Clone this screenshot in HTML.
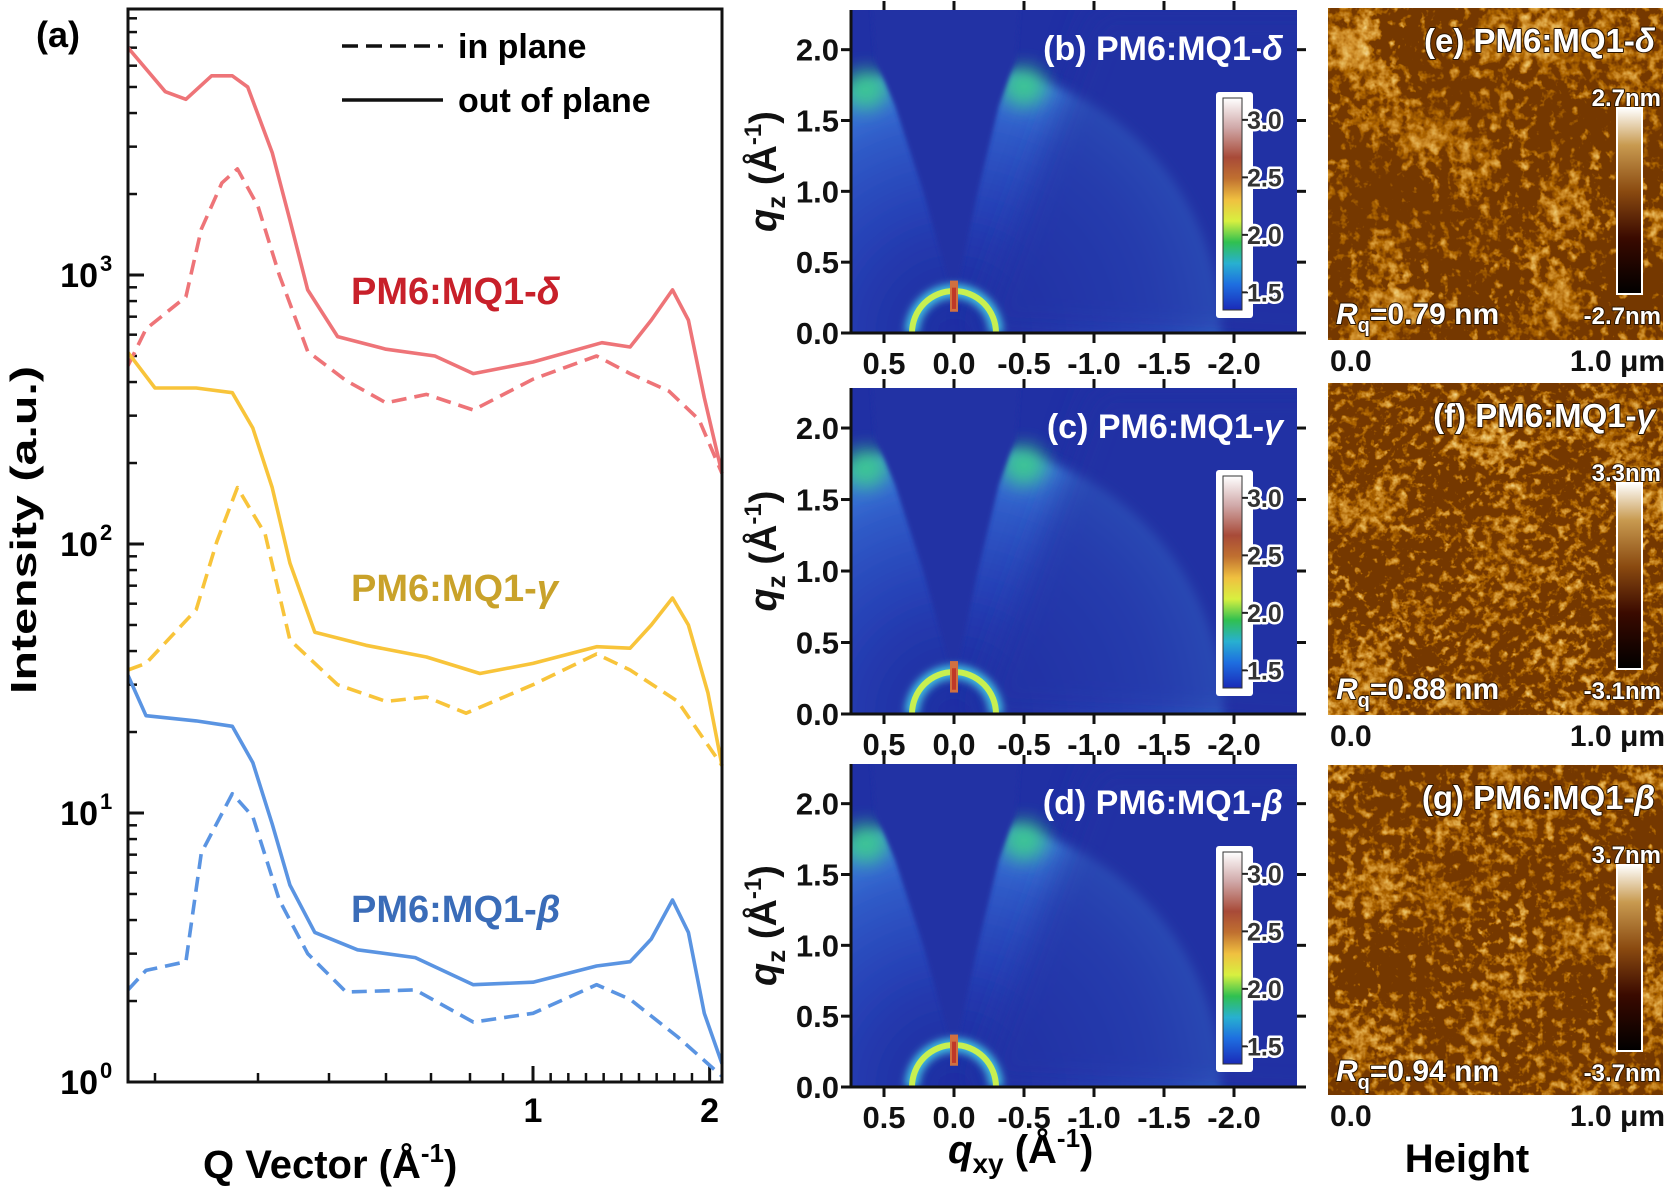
<!DOCTYPE html>
<html><head><meta charset="utf-8">
<style>
html,body{margin:0;padding:0;background:#fff;overflow:hidden;width:1673px;height:1196px;}
svg{display:block;font-family:"Liberation Sans",sans-serif;font-weight:bold;}
</style></head>
<body>
<svg id="fig" width="1673" height="1196" viewBox="0 0 1673 1196" xmlns="http://www.w3.org/2000/svg">
<defs>
  <filter id="blur4" x="-50%" y="-50%" width="200%" height="200%"><feGaussianBlur stdDeviation="4"/></filter>
  <filter id="blur8" x="-50%" y="-50%" width="200%" height="200%"><feGaussianBlur stdDeviation="9"/></filter>
  <filter id="blur16" x="-50%" y="-50%" width="200%" height="200%"><feGaussianBlur stdDeviation="16"/></filter>
  <filter id="blur2" x="-20%" y="-20%" width="140%" height="140%"><feGaussianBlur stdDeviation="2"/></filter>
  <linearGradient id="gcbar" x1="0" y1="1" x2="0" y2="0">
    <stop offset="0" stop-color="#1a2ab8"/>
    <stop offset="0.12" stop-color="#1e6ee0"/>
    <stop offset="0.22" stop-color="#28b0d0"/>
    <stop offset="0.32" stop-color="#30c050"/>
    <stop offset="0.42" stop-color="#d8f040"/>
    <stop offset="0.52" stop-color="#f0c040"/>
    <stop offset="0.62" stop-color="#c07030"/>
    <stop offset="0.72" stop-color="#a84a38"/>
    <stop offset="0.86" stop-color="#d0a8a8"/>
    <stop offset="1" stop-color="#ffffff"/>
  </linearGradient>
  <linearGradient id="acbar" x1="0" y1="1" x2="0" y2="0">
    <stop offset="0" stop-color="#000000"/>
    <stop offset="0.3" stop-color="#3a0a00"/>
    <stop offset="0.55" stop-color="#8a4a10"/>
    <stop offset="0.8" stop-color="#c89a50"/>
    <stop offset="1" stop-color="#ffffff"/>
  </linearGradient>
  <filter id="afmA" x="0" y="0" width="1" height="1" filterUnits="objectBoundingBox">
    <feTurbulence type="fractalNoise" baseFrequency="0.1" numOctaves="3" seed="3" result="n1"/>
    <feTurbulence type="fractalNoise" baseFrequency="0.012" numOctaves="2" seed="7" result="n2"/>
    <feComposite in="n1" in2="n2" operator="arithmetic" k1="0" k2="1.15" k3="0.9" k4="-0.5" result="n"/>
    <feColorMatrix in="n" type="matrix" values="1 0 0 0 0  1 0 0 0 0  1 0 0 0 0  0 0 0 0 1"/>
    <feComponentTransfer>
      <feFuncR type="table" tableValues="0.18 0.42 0.66 0.82 0.93 1"/>
      <feFuncG type="table" tableValues="0.04 0.13 0.3 0.52 0.75 0.97"/>
      <feFuncB type="table" tableValues="0 0 0.03 0.12 0.38 0.85"/>
    </feComponentTransfer>
  </filter>
  <filter id="afmB" x="0" y="0" width="1" height="1" filterUnits="objectBoundingBox">
    <feTurbulence type="fractalNoise" baseFrequency="0.12" numOctaves="3" seed="11" result="n1"/>
    <feTurbulence type="fractalNoise" baseFrequency="0.015" numOctaves="2" seed="19" result="n2"/>
    <feComposite in="n1" in2="n2" operator="arithmetic" k1="0" k2="1.25" k3="0.7" k4="-0.46" result="n"/>
    <feColorMatrix in="n" type="matrix" values="1 0 0 0 0  1 0 0 0 0  1 0 0 0 0  0 0 0 0 1"/>
    <feComponentTransfer>
      <feFuncR type="table" tableValues="0.18 0.42 0.66 0.82 0.93 1"/>
      <feFuncG type="table" tableValues="0.04 0.13 0.3 0.52 0.75 0.97"/>
      <feFuncB type="table" tableValues="0 0 0.03 0.12 0.38 0.85"/>
    </feComponentTransfer>
  </filter>
  <filter id="afmC" x="0" y="0" width="1" height="1" filterUnits="objectBoundingBox">
    <feTurbulence type="fractalNoise" baseFrequency="0.11" numOctaves="3" seed="23" result="n1"/>
    <feTurbulence type="fractalNoise" baseFrequency="0.013" numOctaves="2" seed="31" result="n2"/>
    <feComposite in="n1" in2="n2" operator="arithmetic" k1="0" k2="1.15" k3="0.8" k4="-0.47" result="n"/>
    <feColorMatrix in="n" type="matrix" values="1 0 0 0 0  1 0 0 0 0  1 0 0 0 0  0 0 0 0 1"/>
    <feComponentTransfer>
      <feFuncR type="table" tableValues="0.18 0.42 0.66 0.82 0.93 1"/>
      <feFuncG type="table" tableValues="0.04 0.13 0.3 0.52 0.75 0.97"/>
      <feFuncB type="table" tableValues="0 0 0.03 0.12 0.38 0.85"/>
    </feComponentTransfer>
  </filter>
</defs>

<g id="panelA">
  <text x="36" y="47" font-size="36">(a)</text>
  <g id="aTicks"></g>
  <g id="aCurves"></g>
  <rect x="128" y="9" width="594" height="1073" fill="none" stroke="#111" stroke-width="3"/>
  <text transform="translate(36,530) rotate(-90)" text-anchor="middle" font-size="36" textLength="328" lengthAdjust="spacingAndGlyphs">Intensity (a.u.)</text>
  <text x="203" y="1178" font-size="40">Q Vector (Å<tspan font-size="26" dy="-16">-1</tspan><tspan dy="16">)</tspan></text>
  <g>
    <line x1="342" y1="46" x2="443" y2="46" stroke="#111" stroke-width="3.5" stroke-dasharray="16 8"/>
    <text x="458" y="58" font-size="34">in plane</text>
    <line x1="342" y1="100" x2="443" y2="100" stroke="#111" stroke-width="3.5"/>
    <text x="458" y="112" font-size="34">out of plane</text>
  </g>
  <text x="351" y="304" font-size="38" fill="#c8202a">PM6:MQ1-<tspan font-style="italic">δ</tspan></text>
  <text x="351" y="601" font-size="38" fill="#c9a22a">PM6:MQ1-<tspan font-style="italic">γ</tspan></text>
  <text x="351" y="922" font-size="38" fill="#3a6cb8">PM6:MQ1-<tspan font-style="italic">β</tspan></text>
</g>

<g id="giwaxs"></g>
<g id="afm"></g>

<text x="948" y="1163" font-size="40"><tspan font-style="italic">q</tspan><tspan font-size="28" dy="10">xy</tspan><tspan dy="-10"> (Å</tspan><tspan font-size="26" dy="-16">-1</tspan><tspan dy="16">)</tspan></text>
<text x="1467" y="1172" font-size="40" text-anchor="middle">Height</text>
</svg>

<script>
// ---------------- Panel (a) data ----------------
var redSolidQ = [0.27,0.31,0.33,0.355,0.375,0.39,0.42,0.445,0.47,0.515,0.6,0.71,0.81,1.0,1.39,1.55,1.67,1.79,1.88,1.97,2.07];
var redSolidI = [7000,4800,4500,5500,5500,5000,2850,1600,880,590,530,500,430,475,560,540,680,880,680,350,183];
var redDashQ = [0.27,0.29,0.33,0.345,0.365,0.38,0.4,0.43,0.47,0.53,0.6,0.69,0.81,1.0,1.36,1.55,1.77,1.94,2.07];
var redDashI = [460,630,830,1480,2200,2480,1800,1000,520,405,335,360,315,410,500,430,370,290,183];
var yelSolidQ = [0.27,0.3,0.34,0.375,0.395,0.42,0.445,0.48,0.565,0.69,0.83,1.0,1.36,1.55,1.67,1.79,1.88,1.99,2.07];
var yelSolidI = [515,380,380,365,270,162,85,47,42,38,33,36,41.5,41,50,63,50,28,15];
var yelDashQ = [0.27,0.29,0.34,0.36,0.38,0.41,0.445,0.515,0.6,0.69,0.79,1.0,1.36,1.55,1.82,2.07];
var yelDashI = [34,36,57,102,162,109,44,30,26,27,23.5,30,39,34,26,15];
var bluSolidQ = [0.27,0.29,0.34,0.375,0.395,0.42,0.445,0.48,0.55,0.665,0.81,1.0,1.36,1.55,1.67,1.79,1.88,1.97,2.07];
var bluSolidI = [32.5,23,22,21,15.4,9.1,5.4,3.6,3.1,2.9,2.3,2.35,2.7,2.8,3.4,4.75,3.6,1.8,1.17];
var bluDashQ = [0.27,0.29,0.33,0.345,0.375,0.395,0.43,0.47,0.53,0.665,0.81,1.0,1.36,1.55,1.82,2.07];
var bluDashI = [2.2,2.6,2.8,7.1,11.8,9.7,4.75,3.0,2.16,2.2,1.67,1.8,2.3,2.03,1.47,1.05];
var xMajorTicks = [1,2];
var xMajorLabels = ["1","2"];
var xMinorTicks = [0.3,0.4,0.5,0.6,0.7,0.8,0.9,1.1,1.2,1.3,1.4,1.5,1.6,1.7,1.8,1.9];
var yDecades = [0,1,2,3];
var yLabels = ["0","1","2","3"];

var axQ = [0.27,0.3,0.4,0.5,0.6,0.7,0.8,0.9,1.0,2.07];
var axPx = [128,155,258,329,386,431,470,503,533,722];
function xA(q){
  for (var i=0;i<axQ.length-1;i++){
    if (q<=axQ[i+1] || i===axQ.length-2){
      var t=(q-axQ[i])/(axQ[i+1]-axQ[i]);
      return axPx[i]+t*(axPx[i+1]-axPx[i]);
    }
  }
}
function yA(v){ return 1082 - 269*Math.log10(v); }

var NS="http://www.w3.org/2000/svg";
function mk(tag, attrs, parent){
  var e=document.createElementNS(NS,tag);
  for (var k in attrs) e.setAttribute(k, attrs[k]);
  if (parent) parent.appendChild(e);
  return e;
}
function tsp(parent, txt, attrs){
  var s=mk('tspan', attrs||{}, parent);
  s.textContent=txt;
  return s;
}

var aT=document.getElementById('aTicks');
xMajorTicks.forEach(function(q,i){
  var x=xA(q);
  var l=mk('line',{x1:x,y1:1082,x2:x,y2:1066,stroke:'#111','stroke-width':3},aT);
  
  
  var t=mk('text',{x:x,y:1122,'font-size':34,'text-anchor':'middle'},aT);
  t.textContent=xMajorLabels[i];
  
  
});
xMinorTicks.forEach(function(q){
  var x=xA(q);
  var l=mk('line',{x1:x,y1:1082,x2:x,y2:1073,stroke:'#111','stroke-width':2.5},aT);
  
  
});
yDecades.forEach(function(d,i){
  var y=yA(Math.pow(10,d));
  var l=mk('line',{x1:128,y1:y,x2:144,y2:y,stroke:'#111','stroke-width':3},aT);
  
  
  var t=mk('text',{x:98,y:y+12,'font-size':34,'text-anchor':'end'},aT);
  t.textContent='10';
  
  
  var s=mk('text',{x:100,y:y-4,'font-size':22},aT);
  s.textContent=yLabels[i];
  
  
  for (var m=2;m<=9;m++){
    var ym=yA(m*Math.pow(10,d));
    if (ym<10) continue;
    var lm=mk('line',{x1:128,y1:ym,x2:137,y2:ym,stroke:'#111','stroke-width':2.5},aT);
    
    
  }
});

var aC=document.getElementById('aCurves');
function curve(qs, is, color, dashed, name){
  var pts=qs.map(function(q,i){return xA(q).toFixed(1)+','+yA(is[i]).toFixed(1);}).join(' ');
  var p=mk('polyline',{points:pts,fill:'none',stroke:color,'stroke-width':3.6,'stroke-linejoin':'round'},aC);
  if (dashed) p.setAttribute('stroke-dasharray','15 8');
  
  
}
curve(redDashQ,redDashI,'#ee7478',true,'delta-in-plane-curve');
curve(redSolidQ,redSolidI,'#ee7478',false,'delta-out-of-plane-curve');
curve(yelDashQ,yelDashI,'#f8c43a',true,'gamma-in-plane-curve');
curve(yelSolidQ,yelSolidI,'#f8c43a',false,'gamma-out-of-plane-curve');
curve(bluDashQ,bluDashI,'#5a94e2',true,'beta-in-plane-curve');
curve(bluSolidQ,bluSolidI,'#5a94e2',false,'beta-out-of-plane-curve');

// ---------------- GIWAXS panels ----------------
var gPanels = [
  {T:10,B:333,lab:'(b) PM6:MQ1-',g:'δ',id:'b'},
  {T:388,B:714,lab:'(c) PM6:MQ1-',g:'γ',id:'c'},
  {T:764,B:1087,lab:'(d) PM6:MQ1-',g:'β',id:'d'}
];
var qxyTicks=[0.5,0.0,-0.5,-1.0,-1.5,-2.0];
var qxyLabels=["0.5","0.0","-0.5","-1.0","-1.5","-2.0"];
var qzTicks=[0,0.5,1.0,1.5,2.0];
var qzLabels=["0.0","0.5","1.0","1.5","2.0"];
var cbTicks=[3.0,2.5,2.0,1.5];
var cbLabels=["3.0","2.5","2.0","1.5"];
var GL=851, GR=1297, BG='#2030a4';
var G=document.getElementById('giwaxs');
gPanels.forEach(function(P){
  var X=function(q){return 954-140*q;};
  var sy=(P.B-P.T)/2.28;
  var Y=function(q){return P.B-sy*q;};
  var g=mk('g',{},G);
  
  
  var cp=mk('clipPath',{id:'clip'+P.id},g);
  mk('rect',{x:GL,y:P.T,width:GR-GL,height:P.B-P.T},cp);
  var img=mk('g',{'clip-path':'url(#clip'+P.id+')'},g);
  
  
  mk('rect',{x:GL,y:P.T,width:GR-GL,height:P.B-P.T,fill:BG},img);
  var rg=mk('radialGradient',{id:'rg'+P.id,gradientUnits:'userSpaceOnUse',cx:954,cy:P.B,r:1.95*sy},img);
  [[0,BG,0],[0.45,'#2f5ad0',0.4],[0.75,'#3a78e0',0.6],[0.95,'#48a0ee',0.75],[1,BG,0]].forEach(function(s){
    mk('stop',{offset:s[0],'stop-color':s[1],'stop-opacity':s[2]},rg);
  });
  mk('circle',{cx:954,cy:P.B,r:1.95*sy,fill:'url(#rg'+P.id+')',filter:'url(#blur4)'},img);
  mk('polygon',{points:X(-0.15)+','+P.B+' '+X(-1.0)+','+Y(2.3)+' '+X(-3)+','+Y(2.3)+' '+X(-3)+','+(P.B+20),fill:BG,opacity:0.72,filter:'url(#blur16)'},img);
  mk('ellipse',{cx:X(0.63),cy:Y(1.72),rx:22,ry:20,fill:'#3ed08a',opacity:0.85,filter:'url(#blur8)'},img);
  mk('ellipse',{cx:X(-0.5),cy:Y(1.74),rx:22,ry:20,fill:'#3ed08a',opacity:0.85,filter:'url(#blur8)'},img);
  var vpts=[[0.02,0.3],[0.22,1.0],[0.42,1.6],[0.56,1.93],[0.6,2.5],[-0.48,2.5],[-0.44,1.93],[-0.32,1.6],[-0.17,1.0],[-0.02,0.3]]
    .map(function(p){return X(p[0])+','+Y(p[1]);}).join(' ');
  mk('polygon',{points:vpts,fill:BG,filter:'url(#blur2)'},img);
  var r=0.3*140;
  mk('path',{d:'M'+(954-r)+','+P.B+' A'+r+','+r+' 0 0 1 '+(954+r)+','+P.B,fill:'none',stroke:'#40c0e0','stroke-width':14,filter:'url(#blur4)'},img);
  mk('path',{d:'M'+(954-r)+','+P.B+' A'+r+','+r+' 0 0 1 '+(954+r)+','+P.B,fill:'none',stroke:'#c8f050','stroke-width':6},img);
  mk('rect',{x:950,y:Y(0.37),width:8,height:sy*0.22,fill:'#d07040'},img);
  mk('rect',{x:952,y:Y(0.32),width:4,height:sy*0.15,fill:'#c03828'},img);
  var tt=mk('text',{x:GR-14,y:P.T+50,'font-size':34,'text-anchor':'end',fill:'#ffffff'},g);
  tsp(tt,P.lab);
  tsp(tt,P.g,{'font-style':'italic'});
  
  
  var cb=mk('g',{},g);
  
  
  mk('rect',{x:1216,y:P.T+82,width:37,height:226,fill:'#ffffff',rx:3},cb);
  mk('rect',{x:1223,y:P.T+88,width:19,height:212,fill:'url(#gcbar)',stroke:'#333','stroke-width':1},cb);
  var cbY=function(v){return P.T+88+(3.19-v)*115;};
  cbTicks.forEach(function(v,i){
    var l=mk('line',{x1:1242,y1:cbY(v),x2:1248,y2:cbY(v),stroke:'#222','stroke-width':2},cb);
    
    
    var t=mk('text',{x:1247,y:cbY(v)+9,'font-size':25,fill:'#333',stroke:'#ffffff','stroke-width':5,'paint-order':'stroke','stroke-linejoin':'round'},cb);
    t.textContent=cbLabels[i];
    
    
  });
  var ax=mk('g',{},g);
  
  
  mk('line',{x1:GL,y1:P.T,x2:GL,y2:P.B+1.5,stroke:'#111','stroke-width':3},ax);
  mk('line',{x1:GL-1.5,y1:P.B,x2:GR,y2:P.B,stroke:'#111','stroke-width':3},ax);
  qzTicks.forEach(function(v,i){
    var y=Y(v);
    mk('line',{x1:GL-10,y1:y,x2:GL,y2:y,stroke:'#111','stroke-width':3},ax);
    mk('line',{x1:GR,y1:y,x2:GR+9,y2:y,stroke:'#111','stroke-width':3},ax);
    var t=mk('text',{x:GL-12,y:y+11,'font-size':31,'text-anchor':'end',fill:'#111'},ax);
    t.textContent=qzLabels[i];
    
    
  });
  qxyTicks.forEach(function(v,i){
    var x=X(v);
    mk('line',{x1:x,y1:P.B,x2:x,y2:P.B+10,stroke:'#111','stroke-width':3},ax);
    mk('line',{x1:x,y1:P.T-9,x2:x,y2:P.T,stroke:'#111','stroke-width':3},ax);
    var t=mk('text',{x:x,y:P.B+41,'font-size':31,'text-anchor':'middle',fill:'#111'},ax);
    t.textContent=qxyLabels[i];
    
    
  });
  var yl=mk('text',{transform:'translate(776,'+((P.T+P.B)/2)+') rotate(-90)','font-size':38,'text-anchor':'middle',fill:'#111'},g);
  tsp(yl,'q',{'font-style':'italic'});
  tsp(yl,'z',{'font-size':26,dy:9});
  tsp(yl,' (Å',{dy:-9});
  tsp(yl,'-1',{'font-size':24,dy:-15});
  tsp(yl,')',{dy:15});
  
  
});

// ---------------- AFM panels ----------------
var aPanels=[
  {T:8,B:340,lab:'(e) PM6:MQ1-',g:'δ',top:'2.7',bot:'-2.7',rq:'0.79',f:'afmA',id:'e'},
  {T:383,B:715,lab:'(f) PM6:MQ1-',g:'γ',top:'3.3',bot:'-3.1',rq:'0.88',f:'afmB',id:'f'},
  {T:765,B:1095,lab:'(g) PM6:MQ1-',g:'β',top:'3.7',bot:'-3.7',rq:'0.94',f:'afmC',id:'g'}
];
var AL=1328, AR=1663;
var A=document.getElementById('afm');
aPanels.forEach(function(P){
  var g=mk('g',{},A);
  
  
  var im=mk('rect',{x:AL,y:P.T,width:AR-AL,height:P.B-P.T,fill:'#8a4a10',filter:'url(#'+P.f+')'},g);
  
  
  function st(o){o.fill='#ffffff';o.stroke='#2a1400';o['stroke-width']=2;o['paint-order']='stroke';o['stroke-linejoin']='round';return o;}
  var tt=mk('text',st({x:AR-8,y:P.T+44,'font-size':33,'text-anchor':'end'}),g);
  tsp(tt,P.lab);
  tsp(tt,P.g,{'font-style':'italic'});
  
  
  var bar=mk('rect',{x:1617,y:P.T+100,width:25,height:186,fill:'url(#acbar)',stroke:'#ffffff','stroke-width':2},g);
  
  
  var t1=mk('text',st({x:AR-2,y:P.T+98,'font-size':24,'text-anchor':'end'}),g);
  t1.textContent=P.top+'nm';
  
  
  var t2=mk('text',st({x:AR-2,y:P.T+316,'font-size':24,'text-anchor':'end'}),g);
  t2.textContent=P.bot+'nm';
  
  
  var rq=mk('text',st({x:AL+8,y:P.T+316,'font-size':30}),g);
  tsp(rq,'R',{'font-style':'italic'});
  tsp(rq,'q',{'font-size':20,dy:8});
  tsp(rq,'='+P.rq+' nm',{dy:-8});
  
  
  var x0=mk('text',{x:AL+2,y:P.B+31,'font-size':30,fill:'#111'},g);
  x0.textContent='0.0';
  
  
  var x1=mk('text',{x:AR+2,y:P.B+31,'font-size':30,fill:'#111','text-anchor':'end'},g);
  x1.textContent='1.0 μm';
  
  
});
</script>
</body></html>
